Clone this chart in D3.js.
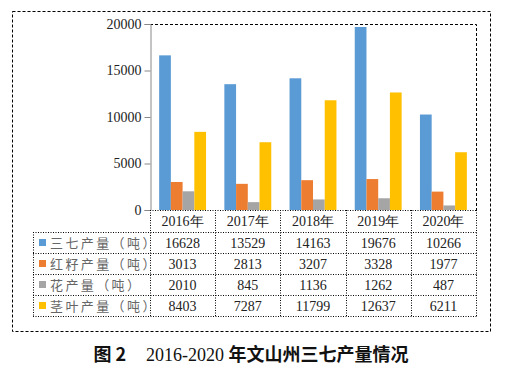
<!DOCTYPE html>
<html>
<head>
<meta charset="utf-8">
<script src="https://cdn.jsdelivr.net/npm/d3@7"></script>
<style>
  body { margin: 0; background: #fff; }
</style>
</head>
<body>
<div id="chart"></div>
<script>
// chart data
var years = ["2016年", "2017年", "2018年", "2019年", "2020年"];
var seriesNames = ["三七产量（吨）", "红籽产量（吨）", "花产量（吨）", "茎叶产量（吨）"];
var sanqi = [16628, 13529, 14163, 19676, 10266];
var hongzi = [3013, 2813, 3207, 3328, 1977];
var hua = [2010, 845, 1136, 1262, 487];
var jingye = [8403, 7287, 11799, 12637, 6211];
var yTicks = [0, 5000, 10000, 15000, 20000];
var colors = ["#5B9BD5", "#ED7D31", "#A5A5A5", "#FFC000"];

var series = [sanqi, hongzi, hua, jingye];

function draw() {
  var w = 505, h = 370;
  var plot = { left: 150, right: 476, top: 24, bottom: 210 };
  var rowH = 21, headH = 22, tableLeft = 33;
  var serif = "'Liberation Serif', 'Times New Roman', serif";
  var cjk = "'Noto Sans CJK SC', sans-serif";

  var svg = d3.select("#chart").append("svg")
    .attr("width", w).attr("height", h);

  // outer dashed frame
  svg.append("rect")
    .attr("x", 12.5).attr("y", 11.5)
    .attr("width", 478).attr("height", 320)
    .attr("fill", "none").attr("stroke", "#000")
    .attr("stroke-dasharray", "3,2");

  var x = d3.scaleBand().domain(years).range([plot.left, plot.right]);
  var xi = d3.scaleBand().domain(d3.range(series.length))
    .range([0, x.bandwidth()]).paddingOuter(0.78).paddingInner(0);
  var y = d3.scaleLinear().domain([0, 20000]).range([plot.bottom, plot.top]);

  // plot frame (top and right dashed)
  svg.append("path")
    .attr("d", "M" + plot.left + "," + (plot.top + 0.5) + "H" + (plot.right + 0.5) + "V" + plot.bottom)
    .attr("fill", "none").attr("stroke", "#000")
    .attr("stroke-dasharray", "3,2");

  // bars
  var groups = svg.selectAll("g.series")
    .data(series).enter().append("g")
    .attr("class", "series")
    .attr("fill", function(d, i) { return colors[i]; });

  groups.each(function(vals, si) {
    d3.select(this).selectAll("rect")
      .data(vals).enter().append("rect")
      .attr("x", function(d, i) { return x(years[i]) + xi(si); })
      .attr("width", xi.bandwidth())
      .attr("y", function(d) { return y(d); })
      .attr("height", function(d) { return y(0) - y(d); });
  });

  // y axis
  var yAxis = d3.axisLeft(y).tickValues(yTicks).tickFormat(d3.format("d"))
    .tickSize(6).tickPadding(3);
  var ga = svg.append("g")
    .attr("transform", "translate(" + (plot.left + 0.5) + ",0)")
    .call(yAxis);
  ga.select(".domain").attr("stroke", "#888");
  ga.selectAll(".tick line").attr("stroke", "#888");
  ga.selectAll(".tick text")
    .attr("font-family", serif).attr("font-size", "14px").attr("fill", "#222");

  // table
  var tableBottom = plot.bottom + headH + rowH * series.length;
  var dotted = "1,1.5";
  var tg = svg.append("g").attr("stroke", "#000").attr("stroke-dasharray", dotted).attr("fill", "none");

  // horizontal lines
  tg.append("line").attr("x1", plot.left).attr("x2", plot.right + 0.5)
    .attr("y1", plot.bottom + 0.5).attr("y2", plot.bottom + 0.5);
  d3.range(series.length + 1).forEach(function(r) {
    var yy = plot.bottom + headH + r * rowH + 0.5;
    tg.append("line").attr("x1", tableLeft).attr("x2", plot.right + 0.5)
      .attr("y1", yy).attr("y2", yy);
  });
  // vertical lines
  tg.append("line").attr("x1", tableLeft + 0.5).attr("x2", tableLeft + 0.5)
    .attr("y1", plot.bottom + headH).attr("y2", tableBottom + 0.5);
  years.forEach(function(yr) {
    var xx = Math.round(x(yr)) + 0.5;
    tg.append("line").attr("x1", xx).attr("x2", xx)
      .attr("y1", plot.bottom).attr("y2", tableBottom + 0.5);
  });
  tg.append("line").attr("x1", plot.right + 0.5).attr("x2", plot.right + 0.5)
    .attr("y1", plot.bottom).attr("y2", tableBottom + 0.5);

  // header (years)
  svg.selectAll("text.year").data(years).enter().append("text")
    .attr("class", "year")
    .attr("x", function(d) { return x(d) + x.bandwidth() / 2; })
    .attr("y", plot.bottom + headH / 2 + 5)
    .attr("text-anchor", "middle")
    .attr("font-family", serif).attr("font-size", "14px").attr("fill", "#222")
    .text(function(d) { return d; });

  // rows
  series.forEach(function(vals, si) {
    var cy = plot.bottom + headH + si * rowH + rowH / 2;
    svg.append("rect")
      .attr("x", 39).attr("y", cy - 3.5)
      .attr("width", 7).attr("height", 7)
      .attr("fill", colors[si]);
    svg.append("text")
      .attr("x", 50).attr("y", cy + 5)
      .attr("font-family", cjk).attr("font-size", "13px")
      .attr("letter-spacing", "2.4px")
      .attr("fill", "#666")
      .text(seriesNames[si]);
    svg.selectAll(null).data(vals).enter().append("text")
      .attr("x", function(d, i) { return x(years[i]) + x.bandwidth() / 2; })
      .attr("y", cy + 5)
      .attr("text-anchor", "middle")
      .attr("font-family", serif).attr("font-size", "14px").attr("fill", "#222")
      .text(function(d) { return d; });
  });

  // caption
  var cap = svg.append("text")
    .attr("x", 251).attr("y", 361)
    .attr("text-anchor", "middle")
    .attr("font-size", "18px").attr("fill", "#111");
  cap.append("tspan").attr("font-family", cjk).attr("font-weight", "bold").text("图 2");
  cap.append("tspan").attr("font-family", serif).attr("dx", 20).text("2016-2020 ");
  cap.append("tspan").attr("font-family", cjk).attr("font-weight", "bold").text("年文山州三七产量情况");
}

window.onload = function() {
  draw();
};
</script>
</body>
</html>
